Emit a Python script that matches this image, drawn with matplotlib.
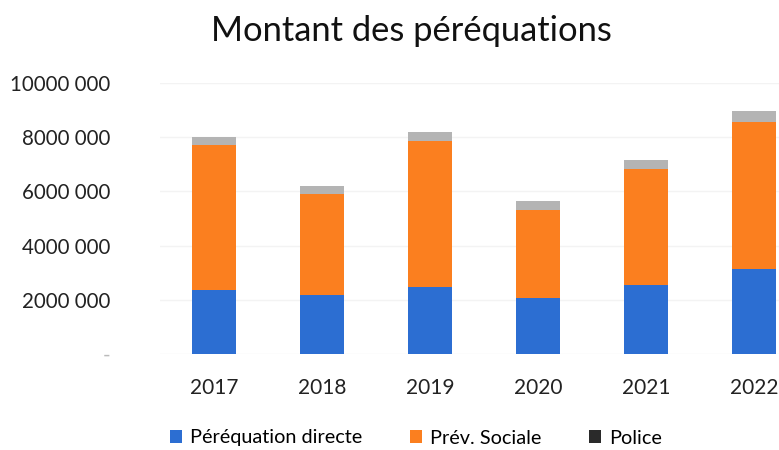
import matplotlib
matplotlib.use("Agg")
import matplotlib.pyplot as plt
import numpy as np

years = ["2017", "2018", "2019", "2020", "2021", "2022"]
perequation_directe = [2380000, 2170000, 2480000, 2050000, 2540000, 3120000]
prev_sociale = [5340000, 3750000, 5380000, 3280000, 4300000, 5440000]
police = [280000, 270000, 350000, 310000, 330000, 390000]

y_ticks = [0, 2000000, 4000000, 6000000, 8000000, 10000000]
y_tick_labels = ["-", "2000 000", "4000 000", "6000 000", "8000 000", "10000 000"]

plt.rcParams["font.family"] = ["Lato", "DejaVu Sans"]

fig = plt.figure(figsize=(7.79, 4.5), dpi=100, facecolor="white")
ax = fig.add_axes([160 / 779, 96 / 450, 619 / 779, 271 / 450])

x = np.arange(len(years))
w = 0.41
blue = "#2c6ed2"
orange = "#fb7f1f"
gray = "#b4b4b4"

b1 = ax.bar(x, perequation_directe, w, color=blue, label="Péréquation directe")
b2 = ax.bar(x, prev_sociale, w, bottom=perequation_directe, color=orange,
            label="Prév. Sociale")
bottom2 = np.array(perequation_directe) + np.array(prev_sociale)
b3 = ax.bar(x, police, w, bottom=bottom2, color=gray, label="Police")

ax.set_xlim(-0.5, 5.23)
ax.set_ylim(0, 10000000)
ax.set_yticks(y_ticks)
ax.set_yticklabels(y_tick_labels)
ax.set_xticks(x)
ax.set_xticklabels(years)
ax.tick_params(axis="y", length=0, pad=36, labelsize=14.8, labelcolor="#222222")
ax.tick_params(axis="x", length=0, pad=17.5, labelsize=15, labelcolor="#222222")
ax.get_yticklabels()[0].set_color("#bbbbbb")
ax.yaxis.grid(True, color="#f3f3f3", linewidth=1)
ax.set_axisbelow(True)
for s in ax.spines:
    ax.spines[s].set_visible(False)

fig.text(411 / 779, 1 - 31 / 450, "Montant des péréquations", ha="center",
         va="center", fontsize=24.8, color="#111111")

leg = fig.legend(handles=[b1, b2, b3], loc="center",
                 bbox_to_anchor=(416 / 779, 1 - 438 / 450), ncol=3,
                 frameon=False, fontsize=14.3, handlelength=0.6, handleheight=0.6,
                 handletextpad=0.4, columnspacing=2.4)
leg.legend_handles[2].set_facecolor("#2a2a2a")

fig.savefig("out.png", dpi=100)
